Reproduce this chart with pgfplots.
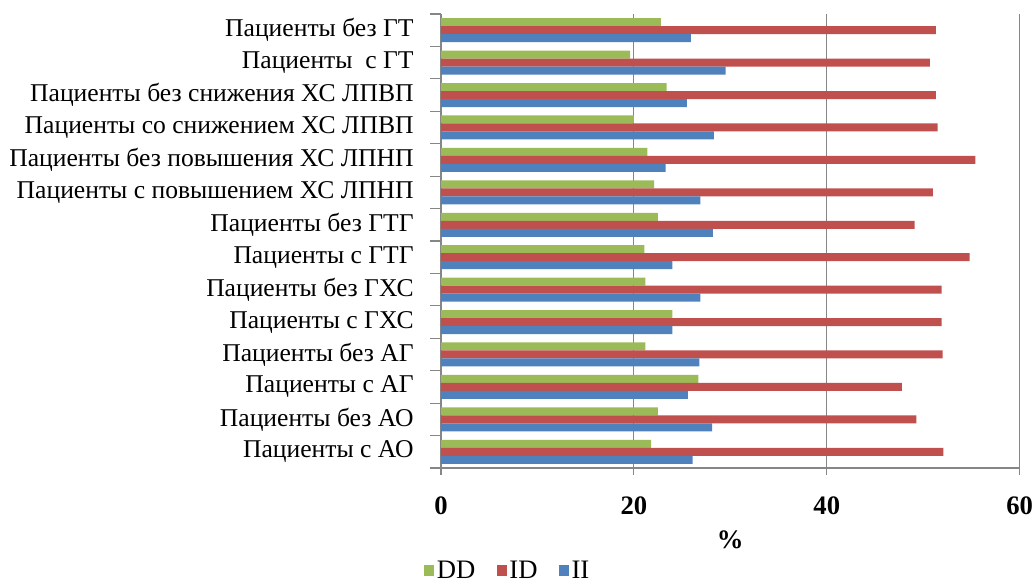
\documentclass[border=0pt]{standalone}
\usepackage{fontspec}
\setmainfont{Liberation Serif}
\usepackage{pgfplots}
\pgfplotsset{compat=1.18}
\definecolor{cDD}{HTML}{9BBB59}
\definecolor{cID}{HTML}{C0504D}
\definecolor{cII}{HTML}{4F81BD}
\definecolor{axgray}{HTML}{868686}
\begin{document}
\begin{tikzpicture}
\begin{axis}[name=ax,
  width=434pt, height=340.5pt, scale only axis,
  xbar, bar width=6pt,
  xmin=0, xmax=60, ymin=-0.5, ymax=13.5,
  axis x line*=bottom, axis y line*=left,
  axis line style={axgray, line width=0.8pt},
  xtick={0,20,40,60},
  xticklabels={\textbf{0},\textbf{20},\textbf{40},\textbf{60}},
  xticklabel style={font=\fontsize{20}{24}\selectfont, yshift=-13pt},
  xmajorgrids, grid style={axgray, line width=0.8pt},
  x tick style={axgray, line width=0.8pt},
  tick align=outside, major tick length=5pt,
  ytick={0,...,13},
  y tick style={draw=none},
  minor ytick={-0.5,0.5,...,13.5},
  minor y tick style={draw=axgray, line width=0.8pt},
  minor tick length=8pt,
  yticklabels={Пациенты с АО, Пациенты без АО, Пациенты с АГ, Пациенты без АГ, Пациенты с ГХС, Пациенты без ГХС, Пациенты с ГТГ, Пациенты без ГТГ, Пациенты с повышением ХС ЛПНП, Пациенты без повышения ХС ЛПНП, Пациенты со снижением ХС ЛПВП, Пациенты без снижения ХС ЛПВП, Пациенты \ с ГТ, Пациенты без ГТ},
  yticklabel style={font=\fontsize{19.2}{22}\selectfont, anchor=east, xshift=-12pt},
  xlabel={\textbf{\%}},
  every axis x label/.style={at={(axis description cs:0.5,0)}, anchor=center, yshift=-54pt, font=\fontsize{20}{24}\selectfont},
  legend columns=3,
  legend style={at={(0.116,-0.227)}, anchor=center, draw=none, fill=none, inner sep=0pt, font=\fontsize{20}{24}\selectfont,
    /tikz/every even column/.append style={column sep=14pt}},
  legend image code/.code={\fill[#1] (2pt,-3.5pt) rectangle (9.5pt,4.5pt);},
]
\addplot[fill=cDD, draw=none, bar shift=6pt] coordinates {
(21.8,0) (22.5,1) (26.7,2) (21.2,3) (24.0,4) (21.2,5) (21.1,6) (22.5,7) (22.1,8) (21.4,9) (20.0,10) (23.4,11) (19.6,12) (22.8,13)};
\addlegendentry{DD}
\addplot[fill=cID, draw=none, bar shift=0pt] coordinates {
(52.1,0) (49.3,1) (47.8,2) (52.0,3) (51.9,4) (51.9,5) (54.8,6) (49.1,7) (51.0,8) (55.4,9) (51.5,10) (51.3,11) (50.7,12) (51.3,13)};
\addlegendentry{ID}
\addplot[fill=cII, draw=none, bar shift=-6pt] coordinates {
(26.1,0) (28.1,1) (25.6,2) (26.8,3) (24.0,4) (26.9,5) (24.0,6) (28.2,7) (26.9,8) (23.3,9) (28.3,10) (25.5,11) (29.5,12) (25.9,13)};
\addlegendentry{II}
\end{axis}
\pgfresetboundingbox
\path[use as bounding box] ([xshift=-330.75pt,yshift=-87.75pt]ax.south west) rectangle ([xshift=446.25pt,yshift=351pt]ax.south west);
\end{tikzpicture}
\end{document}
